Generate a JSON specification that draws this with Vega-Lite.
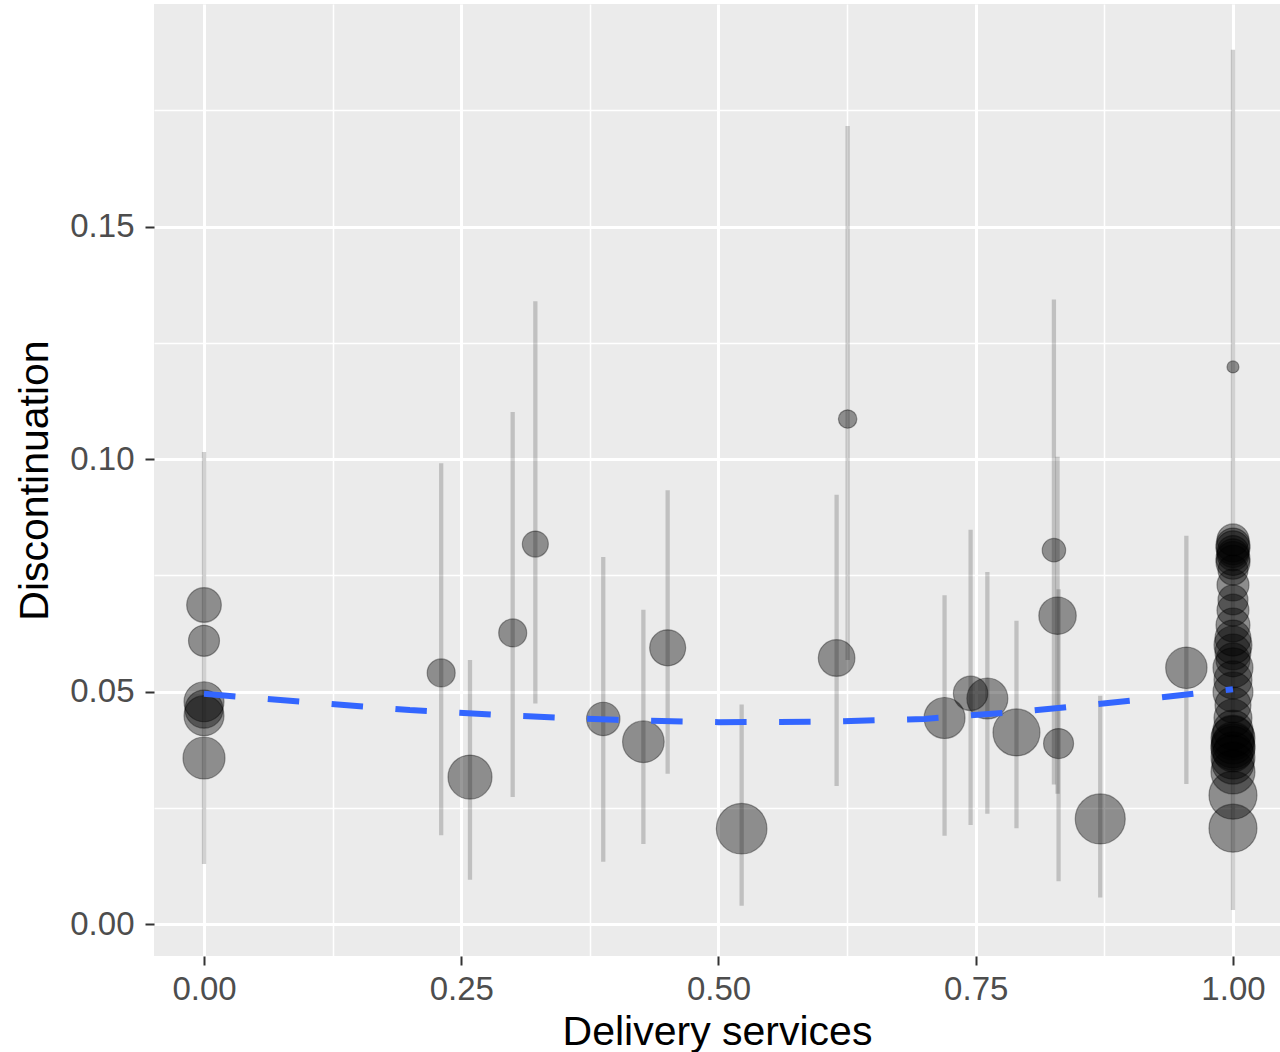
{
  "$schema": "https://vega.github.io/schema/vega-lite/v6.json",
  "width": 1126,
  "height": 952,
  "autosize": {"type": "none"},
  "padding": {"left": 154, "top": 4, "right": 0, "bottom": 96},
  "background": "white",
  "view": {"fill": "#EBEBEB", "stroke": null},
  "config": {
    "font": "Liberation Sans",
    "axis": {
      "domain": false,
      "grid": true,
      "gridColor": "white",
      "tickColor": "#333333",
      "tickWidth": 2,
      "tickSize": 9,
      "labelFont": "Liberation Sans",
      "labelFontSize": 33,
      "labelColor": "#4D4D4D",
      "titleFont": "Liberation Sans",
      "titleFontSize": 41,
      "titleFontWeight": "normal",
      "titleColor": "#000000"
    }
  },
  "datasets": {
    "pts": [
      {"x": 0, "y": 0.0686, "lo": 0.0129, "hi": 0.1015, "w": 300},
      {"x": 0, "y": 0.0609, "lo": null, "hi": null, "w": 240},
      {"x": 0, "y": 0.0478, "lo": null, "hi": null, "w": 400},
      {"x": 0, "y": 0.0462, "lo": null, "hi": null, "w": 361},
      {"x": 0, "y": 0.0448, "lo": null, "hi": null, "w": 400},
      {"x": 0, "y": 0.0357, "lo": null, "hi": null, "w": 441},
      {"x": 0.2305, "y": 0.054, "lo": 0.0191, "hi": 0.0991, "w": 196},
      {"x": 0.2585, "y": 0.0316, "lo": 0.0095, "hi": 0.0568, "w": 484},
      {"x": 0.3, "y": 0.0626, "lo": 0.0273, "hi": 0.1101, "w": 196},
      {"x": 0.322, "y": 0.0817, "lo": 0.0474, "hi": 0.1339, "w": 169},
      {"x": 0.388, "y": 0.0441, "lo": 0.0134, "hi": 0.0789, "w": 279},
      {"x": 0.427, "y": 0.0392, "lo": 0.0172, "hi": 0.0676, "w": 433},
      {"x": 0.4506, "y": 0.0594, "lo": 0.0323, "hi": 0.0933, "w": 324},
      {"x": 0.5225, "y": 0.0205, "lo": 0.0039, "hi": 0.0472, "w": 640},
      {"x": 0.6148, "y": 0.0572, "lo": 0.0297, "hi": 0.0923, "w": 335},
      {"x": 0.6255, "y": 0.1086, "lo": 0.0568, "hi": 0.1716, "w": 85},
      {"x": 0.7197, "y": 0.0443, "lo": 0.019, "hi": 0.0707, "w": 420},
      {"x": 0.745, "y": 0.0496, "lo": 0.0213, "hi": 0.0848, "w": 296},
      {"x": 0.7613, "y": 0.0485, "lo": 0.0237, "hi": 0.0757, "w": 420},
      {"x": 0.7896, "y": 0.0412, "lo": 0.0206, "hi": 0.0652, "w": 552},
      {"x": 0.826, "y": 0.0804, "lo": 0.03, "hi": 0.1343, "w": 137},
      {"x": 0.8295, "y": 0.0663, "lo": 0.028, "hi": 0.1005, "w": 350},
      {"x": 0.8305, "y": 0.0388, "lo": 0.0092, "hi": 0.072, "w": 225},
      {"x": 0.871, "y": 0.0226, "lo": 0.0057, "hi": 0.0491, "w": 625},
      {"x": 0.9547, "y": 0.0551, "lo": 0.0301, "hi": 0.0835, "w": 428},
      {"x": 1, "y": 0.1198, "lo": 0.003, "hi": 0.188, "w": 36},
      {"x": 1, "y": 0.0826, "lo": null, "hi": null, "w": 256},
      {"x": 1, "y": 0.0815, "lo": null, "hi": null, "w": 289},
      {"x": 1, "y": 0.0809, "lo": null, "hi": null, "w": 289},
      {"x": 1, "y": 0.0801, "lo": null, "hi": null, "w": 256},
      {"x": 1, "y": 0.0794, "lo": null, "hi": null, "w": 256},
      {"x": 1, "y": 0.0786, "lo": null, "hi": null, "w": 289},
      {"x": 1, "y": 0.0778, "lo": null, "hi": null, "w": 289},
      {"x": 1, "y": 0.0761, "lo": null, "hi": null, "w": 225},
      {"x": 1, "y": 0.0729, "lo": null, "hi": null, "w": 256},
      {"x": 1, "y": 0.0697, "lo": null, "hi": null, "w": 225},
      {"x": 1, "y": 0.0675, "lo": null, "hi": null, "w": 256},
      {"x": 1, "y": 0.0643, "lo": null, "hi": null, "w": 289},
      {"x": 1, "y": 0.0615, "lo": null, "hi": null, "w": 324},
      {"x": 1, "y": 0.06, "lo": null, "hi": null, "w": 361},
      {"x": 1, "y": 0.0585, "lo": null, "hi": null, "w": 324},
      {"x": 1, "y": 0.0568, "lo": null, "hi": null, "w": 289},
      {"x": 1, "y": 0.0551, "lo": null, "hi": null, "w": 400},
      {"x": 1, "y": 0.0525, "lo": null, "hi": null, "w": 361},
      {"x": 1, "y": 0.0499, "lo": null, "hi": null, "w": 400},
      {"x": 1, "y": 0.0471, "lo": null, "hi": null, "w": 324},
      {"x": 1, "y": 0.0443, "lo": null, "hi": null, "w": 361},
      {"x": 1, "y": 0.0417, "lo": null, "hi": null, "w": 400},
      {"x": 1, "y": 0.0404, "lo": null, "hi": null, "w": 441},
      {"x": 1, "y": 0.04, "lo": null, "hi": null, "w": 484},
      {"x": 1, "y": 0.0389, "lo": null, "hi": null, "w": 441},
      {"x": 1, "y": 0.0383, "lo": null, "hi": null, "w": 484},
      {"x": 1, "y": 0.0378, "lo": null, "hi": null, "w": 484},
      {"x": 1, "y": 0.037, "lo": null, "hi": null, "w": 400},
      {"x": 1, "y": 0.0359, "lo": null, "hi": null, "w": 484},
      {"x": 1, "y": 0.0346, "lo": null, "hi": null, "w": 441},
      {"x": 1, "y": 0.0327, "lo": null, "hi": null, "w": 484},
      {"x": 1, "y": 0.0277, "lo": null, "hi": null, "w": 576},
      {"x": 1, "y": 0.0206, "lo": null, "hi": null, "w": 576}
    ],
    "smooth": [
      {"x": 0, "y": 0.0495},
      {"x": 0.1, "y": 0.0477},
      {"x": 0.2, "y": 0.046},
      {"x": 0.3, "y": 0.0448},
      {"x": 0.4, "y": 0.0439},
      {"x": 0.5, "y": 0.0434},
      {"x": 0.6, "y": 0.0435},
      {"x": 0.7, "y": 0.0441},
      {"x": 0.8, "y": 0.0458},
      {"x": 0.9, "y": 0.048},
      {"x": 1, "y": 0.0505}
    ]
  },
  "encoding": {
    "x": {
      "field": "x", "type": "quantitative",
      "scale": {"domain": [-0.0486, 1.0457], "nice": false, "zero": false},
      "axis": {
        "title": "Delivery services",
        "values": [0, 0.125, 0.25, 0.375, 0.5, 0.625, 0.75, 0.875, 1],
        "labelExpr": "abs(datum.value*4 - round(datum.value*4)) < 0.000001 ? format(datum.value, '.2f') : ''",
        "gridWidth": {"condition": {"test": "abs(datum.value*4 - round(datum.value*4)) < 0.000001", "value": 3}, "value": 1.5},
        "tickOpacity": {"condition": {"test": "abs(datum.value*4 - round(datum.value*4)) < 0.000001", "value": 1}, "value": 0},
        "labelPadding": 8,
        "titlePadding": 6,
        "labelFlush": false
      }
    },
    "y": {
      "field": "y", "type": "quantitative",
      "scale": {"domain": [-0.00688, 0.19785], "nice": false, "zero": false},
      "axis": {
        "title": "Discontinuation",
        "values": [0, 0.025, 0.05, 0.075, 0.1, 0.125, 0.15, 0.175],
        "labelExpr": "abs(datum.value*20 - round(datum.value*20)) < 0.000001 ? format(datum.value, '.2f') : ''",
        "gridWidth": {"condition": {"test": "abs(datum.value*20 - round(datum.value*20)) < 0.000001", "value": 3}, "value": 1.5},
        "tickOpacity": {"condition": {"test": "abs(datum.value*20 - round(datum.value*20)) < 0.000001", "value": 1}, "value": 0},
        "labelPadding": 11,
        "titlePadding": 13,
        "labelFlush": false
      }
    }
  },
  "layer": [
    {
      "data": {"name": "pts"},
      "mark": {"type": "rule", "color": "#000000", "opacity": 0.18, "strokeWidth": 4.3},
      "encoding": {
        "y": {"field": "lo", "type": "quantitative"},
        "y2": {"field": "hi"}
      }
    },
    {
      "data": {"name": "pts"},
      "mark": {"type": "point", "shape": "circle", "filled": true, "fill": "#000000", "fillOpacity": 0.4, "stroke": "#000000", "strokeOpacity": 0.35, "strokeWidth": 1.2},
      "encoding": {
        "size": {"field": "w", "type": "quantitative", "scale": {"domain": [0, 700], "range": [0, 2800]}, "legend": null}
      }
    },
    {
      "data": {"name": "smooth"},
      "mark": {"type": "line", "color": "#3366FF", "strokeWidth": 6, "strokeDash": [31.5, 32.5], "clip": true},
      "encoding": {}
    }
  ]
}
